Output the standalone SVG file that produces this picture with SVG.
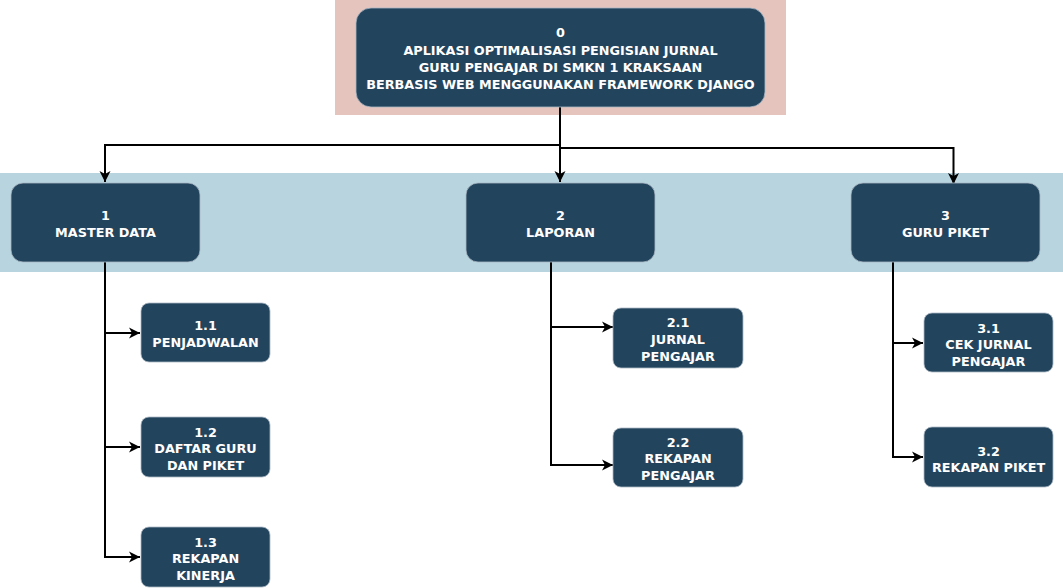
<svg xmlns="http://www.w3.org/2000/svg" width="1063" height="588" viewBox="0 0 1063 588">
<defs>
<style>
.bg{stroke:none}
.node{fill:#23445D;stroke:#A9B8C4;stroke-width:0.8}
.t{font-family:"DejaVu Sans",Verdana,sans-serif;font-weight:bold;font-size:12.8px;fill:#ffffff;text-anchor:middle}
.c{fill:none;stroke:#000000;stroke-width:2}
</style>
<marker id="ah" markerWidth="12" markerHeight="12" viewBox="0 0 12 12" refX="11" refY="6" orient="auto" markerUnits="userSpaceOnUse">
<path d="M0,0.5 L11,6 L0,11.5 L3,6 Z" fill="#000000"/>
</marker>
</defs>
<rect width="1063" height="588" fill="#ffffff"/>
<rect class="bg" x="335" y="0" width="451" height="115" fill="#E5C4BE"/>
<rect class="bg" x="0" y="173" width="1063" height="99" fill="#B7D4DF"/>
<g id="connectors">
<path class="c" d="M560,107 V145 H105 V182" marker-end="url(#ah)"/>
<path class="c" d="M560,107 V182" marker-end="url(#ah)"/>
<path class="c" d="M560,148 H953.5 V184" marker-end="url(#ah)"/>
<path class="c" d="M105,262 V333 H140" marker-end="url(#ah)"/>
<path class="c" d="M105,333 V447 H140" marker-end="url(#ah)"/>
<path class="c" d="M105,447 V557 H140" marker-end="url(#ah)"/>
<path class="c" d="M551,262 V327 H613" marker-end="url(#ah)"/>
<path class="c" d="M551,327 V465 H613" marker-end="url(#ah)"/>
<path class="c" d="M893,262 V343 H923" marker-end="url(#ah)"/>
<path class="c" d="M893,343 V457 H923" marker-end="url(#ah)"/>
</g>
<g id="n0">
<rect class="node" x="356" y="8" width="409" height="99" rx="15"/>
<text class="t" x="560.5" y="37">0</text>
<text class="t" x="560.5" y="54.5">APLIKASI OPTIMALISASI PENGISIAN JURNAL</text>
<text class="t" x="560.5" y="72">GURU PENGAJAR DI SMKN 1 KRAKSAAN</text>
<text class="t" x="560.5" y="89">BERBASIS WEB MENGGUNAKAN FRAMEWORK DJANGO</text>
</g>
<g id="n1">
<rect class="node" x="11" y="183" width="189" height="79" rx="12"/>
<text class="t" x="105.5" y="220">1</text>
<text class="t" x="105.5" y="237">MASTER DATA</text>
</g>
<g id="n2">
<rect class="node" x="466" y="183" width="189" height="79" rx="12"/>
<text class="t" x="560.5" y="220">2</text>
<text class="t" x="560.5" y="237">LAPORAN</text>
</g>
<g id="n3">
<rect class="node" x="851" y="183" width="189" height="79" rx="12"/>
<text class="t" x="945.5" y="220">3</text>
<text class="t" x="945.5" y="237">GURU PIKET</text>
</g>
<g id="n1_1">
<rect class="node" x="141" y="303" width="129" height="59" rx="8"/>
<text class="t" x="205.5" y="329.5">1.1</text>
<text class="t" x="205.5" y="346.5">PENJADWALAN</text>
</g>
<g id="n1_2">
<rect class="node" x="141" y="417" width="129" height="60" rx="8"/>
<text class="t" x="205.5" y="436.5">1.2</text>
<text class="t" x="205.5" y="453">DAFTAR GURU</text>
<text class="t" x="205.5" y="469.5">DAN PIKET</text>
</g>
<g id="n1_3">
<rect class="node" x="141" y="527" width="129" height="60" rx="8"/>
<text class="t" x="205.5" y="546.5">1.3</text>
<text class="t" x="205.5" y="563">REKAPAN</text>
<text class="t" x="205.5" y="579.5">KINERJA</text>
</g>
<g id="n2_1">
<rect class="node" x="613" y="308" width="130" height="60" rx="8"/>
<text class="t" x="678" y="326.5">2.1</text>
<text class="t" x="678" y="343.5">JURNAL</text>
<text class="t" x="678" y="361">PENGAJAR</text>
</g>
<g id="n2_2">
<rect class="node" x="613" y="428" width="130" height="59" rx="8"/>
<text class="t" x="678" y="446.5">2.2</text>
<text class="t" x="678" y="463">REKAPAN</text>
<text class="t" x="678" y="479.5">PENGAJAR</text>
</g>
<g id="n3_1">
<rect class="node" x="924" y="313" width="129" height="59" rx="8"/>
<text class="t" x="988.5" y="332.5">3.1</text>
<text class="t" x="988.5" y="348.5">CEK JURNAL</text>
<text class="t" x="988.5" y="365.5">PENGAJAR</text>
</g>
<g id="n3_2">
<rect class="node" x="924" y="427" width="129" height="60" rx="8"/>
<text class="t" x="988.5" y="455.5">3.2</text>
<text class="t" x="988.5" y="471.5">REKAPAN PIKET</text>
</g>
</svg>
